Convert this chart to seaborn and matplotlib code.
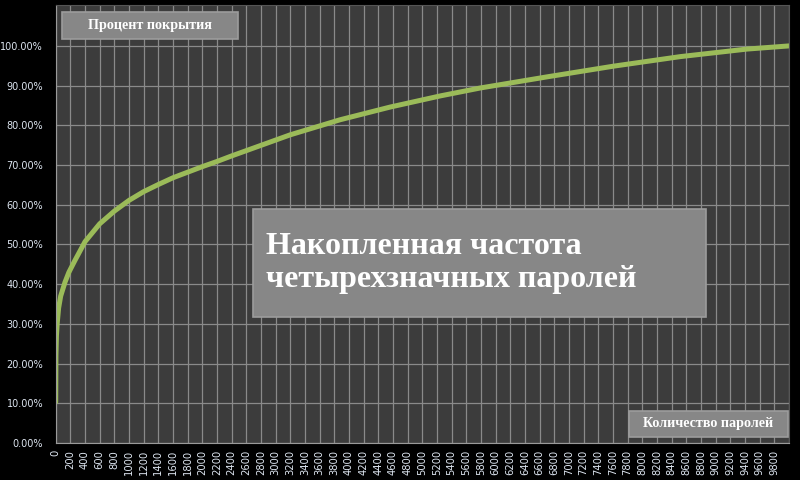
import matplotlib
matplotlib.use("Agg")
import matplotlib.pyplot as plt
import matplotlib.patches as mpatches
import matplotlib.ticker as mticker
import seaborn as sns
import numpy as np
import pandas as pd

# cumulative coverage of 4-digit passwords
n_passwords = [0, 3, 10, 20, 40, 68, 127, 180, 263, 400, 600, 800, 1000, 1200, 1400, 1600,
               1800, 2000, 2200, 2400, 3197, 3878, 4561, 5243, 5789, 6699, 7608, 8517, 9427, 10000]
coverage = [10.3, 22.0, 27.0, 30.0, 34.0, 37.0, 40.5, 43.0, 46.0, 50.7, 55.2, 58.4, 61.1, 63.3, 65.1, 66.8,
            68.2, 69.6, 70.9, 72.3, 77.6, 81.4, 84.6, 87.4, 89.4, 92.2, 94.9, 97.3, 99.2, 100.0]

x_ticks = list(range(0, 10000, 200))
y_ticks = [0, 10, 20, 30, 40, 50, 60, 70, 80, 90, 100]

title_text = "Накопленная частота\nчетырехзначных паролей"
y_title = "Процент покрытия"
x_title = "Количество паролей"

df = pd.DataFrame({"n": n_passwords, "cov": np.array(coverage) / 100})

sns.set_style("dark")
plt.rcParams['font.family'] = ['DejaVu Sans']

fig = plt.figure(figsize=(8, 4.8), dpi=100, facecolor="black")
ax = fig.add_axes([55.7/800, 37/480, (789-55.7)/800, (443-5)/480])
ax.set_facecolor("#3c3c3c")

sns.lineplot(data=df, x="n", y="cov", color="#9bbb59", linewidth=3.6, ax=ax)

ax.set_xlim(0, 10000)
ax.set_ylim(0, 1.103)
ax.set_xticks(x_ticks)
ax.set_xticks([10000], minor=True)
ax.set_xticklabels([str(t) for t in x_ticks], rotation=90)
ax.set_yticks([v / 100 for v in y_ticks])
ax.yaxis.set_major_formatter(mticker.FuncFormatter(lambda v, p: f"{v*100:.2f}%"))
ax.set_xlabel("")
ax.set_ylabel("")

ax.grid(True, which="both", color="#8a8a8a", linewidth=0.9)
ax.tick_params(axis="both", colors="#9a9a9a", labelcolor="#dde5f0", labelsize=7,
               length=3, width=0.8, direction="out")
ax.tick_params(axis="x", pad=2, labelsize=7.2)
ax.tick_params(axis="y", pad=6)
ax.tick_params(axis="x", which="minor", length=0)
for s in ["left", "bottom"]:
    ax.spines[s].set_visible(True)
    ax.spines[s].set_color("#9a9a9a")
for s in ["top", "right"]:
    ax.spines[s].set_visible(True)
    ax.spines[s].set_color("#555555")

def label_box(x0, y0, x1, y1, text, size, left=None):
    fig.add_artist(mpatches.Rectangle((x0/800, 1 - y1/480), (x1-x0)/800, (y1-y0)/480,
                                      transform=fig.transFigure, facecolor="#878787",
                                      edgecolor="#9c9c9c", linewidth=1.2))
    if left is None:
        fig.text((x0+x1)/2/800, 1 - (y0+y1)/2/480, text, ha="center", va="center",
                 color="white", fontsize=size, fontweight="bold", family="Liberation Serif")
    else:
        fig.text(left/800, 1 - (y0+y1)/2/480, text, ha="left", va="center",
                 color="white", fontsize=size, fontweight="bold", family="Liberation Serif",
                 linespacing=1.15)

label_box(62, 12, 238, 39, y_title, 10.2)
label_box(629, 411, 788, 437, x_title, 10.2)
label_box(253, 209, 706, 317, title_text, 23, left=266)

fig.savefig("out.png", dpi=100, facecolor="black")
